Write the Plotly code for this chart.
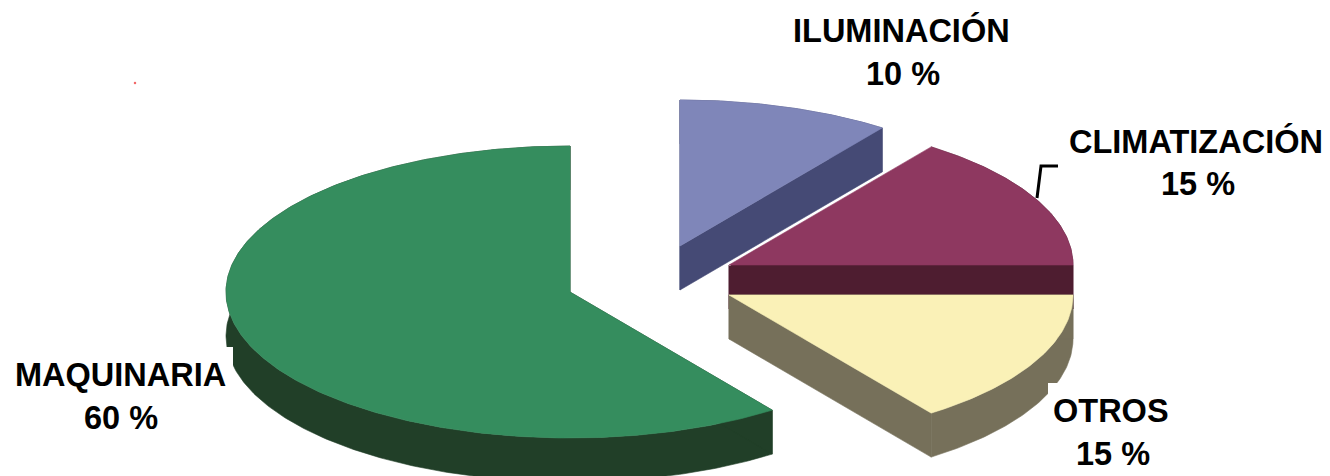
import numpy as np
import plotly.graph_objects as go

# Share of consumption per use, clockwise from twelve o'clock after Maquinaria
categories = ["MAQUINARIA", "ILUMINACIÓN", "CLIMATIZACIÓN", "OTROS"]
shares = [60, 10, 15, 15]
top_colors = ["#358D5E", "#7F86B9", "#8E3860", "#FAF1B7"]
side_colors = ["#213F28", "#454A75", "#4E1D30", "#76705A"]

# Apex of each exploded slice on the 1330x476 canvas
apex_x = [570, 680, 729, 729]
apex_y = [292, 246, 265, 295]

# Centres of the two text lines of each label
name_pos = [(120, 375), (901, 30), (1196, 141), (1111, 411)]
value_pos = [(121, 418), (903, 74), (1198, 184), (1113, 454)]

RX, RY, DEPTH = 344, 146, 44
FONT = dict(family="Liberation Sans, Arial, sans-serif", size=32.5, color="#000000")


def arc_points(cx, cy, start_deg, end_deg):
    """Elliptical arc; angles run clockwise from twelve o'clock."""
    n = max(int(abs(end_deg - start_deg) * 1.5), 12)
    a = np.radians(np.linspace(start_deg, end_deg, n))
    return cx + RX * np.sin(a), cy - RY * np.cos(a)


def wall(xs, ys):
    """Closed polygon for a stretch of outline pushed down by the slice depth."""
    xs, ys = np.asarray(xs, float), np.asarray(ys, float)
    return (np.concatenate((xs, xs[::-1], xs[:1])),
            np.concatenate((ys, ys[::-1] + DEPTH, ys[:1])))


# Sweep of each slice: Maquinaria runs counter-clockwise from the top,
# the others clockwise starting from the same origin
degrees = [s * 3.6 for s in shares]
sweeps = [(-degrees[0], 0)]
running = 0
for d in degrees[1:]:
    sweeps.append((running, running + d))
    running += d

fig = go.Figure()

for i, name in enumerate(categories):
    cx, cy = apex_x[i], apex_y[i]
    ax, ay = arc_points(cx, cy, *sweeps[i])

    # Side walls: rim plus the two radial cut faces
    faces = [
        wall(ax, ay),
        wall([cx, ax[0]], [cy, ay[0]]),
        wall([cx, ax[-1]], [cy, ay[-1]]),
    ]
    for fx, fy in faces:
        fig.add_trace(go.Scatter(x=fx, y=fy, mode="lines", fill="toself",
                                 fillcolor=side_colors[i],
                                 line=dict(color=side_colors[i], width=0.6),
                                 hoverinfo="skip"))

    # Hairline gap where the Climatización slice overlaps its neighbour's wall
    if name == "CLIMATIZACIÓN":
        fig.add_trace(go.Scatter(x=[cx, ax[0]], y=[cy, ay[0]], mode="lines",
                                 line=dict(color="#FFFFFF", width=2.2),
                                 hoverinfo="skip"))

    tx = np.concatenate(([cx], ax, [cx]))
    ty = np.concatenate(([cy], ay, [cy]))
    fig.add_trace(go.Scatter(x=tx, y=ty, mode="lines", fill="toself",
                             fillcolor=top_colors[i],
                             line=dict(color=top_colors[i], width=0.6),
                             hoverinfo="skip"))

# Leader line of the Climatización label
fig.add_trace(go.Scatter(x=[1037, 1041, 1058], y=[198, 166, 166], mode="lines",
                         line=dict(color="#000000", width=3), hoverinfo="skip"))

# Small red speck in the upper left
fig.add_trace(go.Scatter(x=[135], y=[83], mode="markers",
                         marker=dict(color="#F26A6A", size=2.5), hoverinfo="skip"))

for i, name in enumerate(categories):
    for text, (x, y) in ((name, name_pos[i]), (f"{shares[i]} %", value_pos[i])):
        fig.add_annotation(x=x, y=y, text=f"<b>{text}</b>", showarrow=False,
                           xanchor="center", yanchor="middle", font=FONT)

fig.update_layout(
    width=1330, height=476,
    margin=dict(l=0, r=0, t=0, b=0),
    paper_bgcolor="#FFFFFF", plot_bgcolor="#FFFFFF",
    showlegend=False,
    xaxis=dict(range=[0, 1330], visible=False, fixedrange=True),
    yaxis=dict(range=[476, 0], visible=False, fixedrange=True),
    # Label boxes mask the rim of the slices they sit against
    shapes=[
        dict(type="rect", layer="above", x0=0, x1=233, y0=347, y1=476,
             fillcolor="#FFFFFF", line_width=0),
        dict(type="rect", layer="above", x0=1048, x1=1330, y0=383, y1=476,
             fillcolor="#FFFFFF", line_width=0),
    ],
)

fig.write_html("out.html", config=dict(displayModeBar=False))
